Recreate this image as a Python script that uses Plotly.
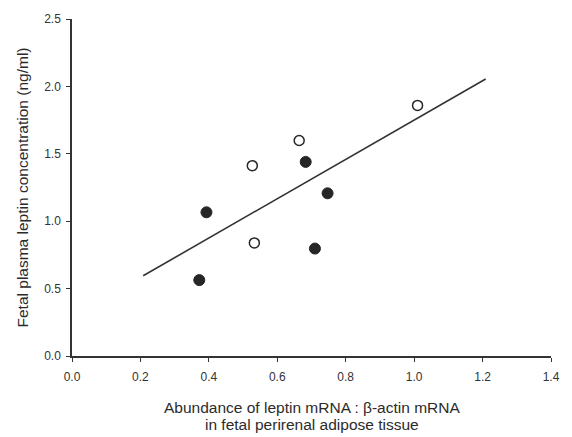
import plotly.graph_objects as go

# Data
open_x = [1.010, 0.664, 0.527, 0.533]
open_y = [1.859, 1.599, 1.412, 0.839]
filled_x = [0.683, 0.747, 0.393, 0.710, 0.372]
filled_y = [1.440, 1.207, 1.066, 0.797, 0.563]
fit_x = [0.208, 1.209]
fit_slope = 1.458
fit_intercept = 0.292
fit_y = [fit_intercept + fit_slope * v for v in fit_x]

x_ticks = [0.0, 0.2, 0.4, 0.6, 0.8, 1.0, 1.2, 1.4]
y_ticks = [0.0, 0.5, 1.0, 1.5, 2.0, 2.5]

x_title_lines = ["Abundance of leptin mRNA : β-actin mRNA",
                 "in fetal perirenal adipose tissue"]
y_title = "Fetal plasma leptin concentration (ng/ml)"

fig = go.Figure()
fig.add_trace(go.Scatter(x=fit_x, y=fit_y, mode="lines",
                         line=dict(color="#333333", width=1.6), showlegend=False))
fig.add_trace(go.Scatter(x=filled_x, y=filled_y, mode="markers",
                         marker=dict(size=11, color="#262626", line=dict(color="#262626", width=1)),
                         showlegend=False))
fig.add_trace(go.Scatter(x=open_x, y=open_y, mode="markers",
                         marker=dict(size=10, color="white", line=dict(color="#262626", width=1.5)),
                         showlegend=False))

font = "Liberation Sans, Arial, sans-serif"
title_font = dict(family=font, size=15.5, color="#2b2b2b")

annotations = [
    dict(text=x_title_lines[0], xref="paper", yref="paper", x=0.5, y=0,
         xanchor="center", yanchor="middle", yshift=-51.5, showarrow=False, font=title_font),
    dict(text=x_title_lines[1], xref="paper", yref="paper", x=0.5, y=0,
         xanchor="center", yanchor="middle", yshift=-68.5, showarrow=False, font=title_font),
    dict(text=y_title, xref="paper", yref="paper", x=0, y=0.5, textangle=-90,
         xanchor="center", yanchor="middle", xshift=-50, showarrow=False, font=title_font),
]

fig.update_layout(
    width=572, height=437,
    margin=dict(l=72, r=15, t=14, b=81),
    paper_bgcolor="white", plot_bgcolor="white",
    font=dict(family=font, color="#333333", size=12),
    annotations=annotations,
    xaxis=dict(range=[0, 1.4], tickvals=x_ticks, ticktext=[f"{v:.1f}" for v in x_ticks],
               showgrid=False, zeroline=False, showline=True, linecolor="#333333", linewidth=1.5,
               ticks="outside", ticklen=4, tickwidth=1.2, tickcolor="#333333",
               tickfont=dict(size=12), ticklabelstandoff=5),
    yaxis=dict(range=[0, 2.5], tickvals=y_ticks, ticktext=[f"{v:.1f}" for v in y_ticks],
               showgrid=False, zeroline=False, showline=True, linecolor="#333333", linewidth=1.5,
               ticks="outside", ticklen=4, tickwidth=1.2, tickcolor="#333333",
               tickfont=dict(size=12), ticklabelstandoff=3),
)

fig.write_html("out.html")
